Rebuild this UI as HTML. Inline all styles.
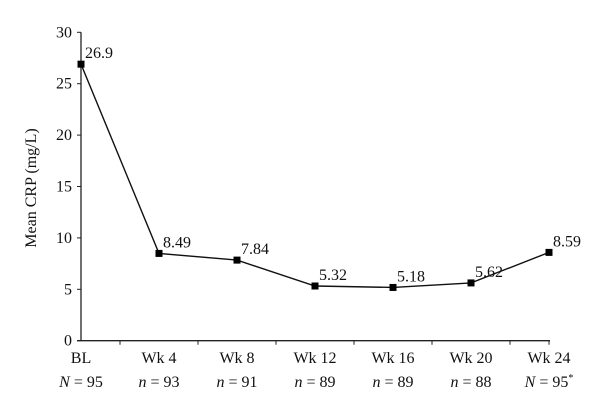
<!DOCTYPE html>
<html><head><meta charset="utf-8"><style>
body{margin:0;background:#fff;}
svg text{font-family:"Liberation Serif",serif;fill:#111;}
</style></head><body>
<svg width="600" height="413">
<g id="axes"></g><g id="marks"></g>
</svg>
<script>
const categories=["BL","Wk 4","Wk 8","Wk 12","Wk 16","Wk 20","Wk 24"];
const nLabels=["N = 95","n = 93","n = 91","n = 89","n = 89","n = 88","N = 95"];
const values=[26.9,8.49,7.84,5.32,5.18,5.62,8.59];
const valueLabels=["26.9","8.49","7.84","5.32","5.18","5.62","8.59"];
const yTicks=[0,5,10,15,20,25,30];
const NS="http://www.w3.org/2000/svg";
const x0=81,step=78,yBase=340.7,yTop=32.3,yMax=30;
const X=i=>x0+i*step;
const Y=v=>yBase-(v/yMax)*(yBase-yTop);
const axes=document.getElementById('axes'),marks=document.getElementById('marks');
function mk(tag,attrs,parent,txt){const e=document.createElementNS(NS,tag);for(const k in attrs)e.setAttribute(k,attrs[k]);if(txt!==undefined)e.textContent=txt;parent.appendChild(e);return e;}
let e=mk('line',{x1:x0,y1:yTop,x2:x0,y2:yBase,stroke:'#222','stroke-width':1.3},axes);


e=mk('line',{x1:x0-4,y1:yBase,x2:X(categories.length-1)+1,y2:yBase,stroke:'#222','stroke-width':1.3},axes);


yTicks.forEach(t=>{
 mk('line',{x1:x0-4,y1:Y(t),x2:x0,y2:Y(t),stroke:'#222'},axes);
 e=mk('text',{x:x0-9,y:Y(t)+5,'text-anchor':'end','font-size':16},axes,String(t));
 
 
});
categories.forEach((c,i)=>{
 const tx=i<categories.length-1?X(i)+step/2:X(i);
 mk('line',{x1:tx,y1:yBase,x2:tx,y2:yBase+4,stroke:'#222'},axes);
 e=mk('text',{x:X(i),y:363,'text-anchor':'middle','font-size':16},axes,c);
 
 
 const parts=nLabels[i].split(' ');
 e=mk('text',{x:X(i),y:387,'text-anchor':'middle','font-size':16},axes);
 
 
 mk('tspan',{'font-style':'italic'},e,parts[0]);
 mk('tspan',{},e,' '+parts.slice(1).join(' '));
 if(i===categories.length-1) mk('tspan',{dy:-6,'font-size':10},e,'*');
});
e=mk('text',{x:0,y:0,transform:'translate(36,188) rotate(-90)','text-anchor':'middle','font-size':16},axes,'Mean CRP (mg/L)');


const pts=values.map((v,i)=>X(i)+','+Y(v)).join(' ');
e=mk('polyline',{points:pts,fill:'none',stroke:'#111','stroke-width':1.4},marks);


values.forEach((v,i)=>{
 e=mk('rect',{x:X(i)-3.5,y:Y(v)-3.5,width:7,height:7,fill:'#000'},marks);
 
 
 e=mk('text',{x:X(i)+4,y:Y(v)-6,'font-size':16},marks,valueLabels[i]);
 
 
});
</script>
</body></html>
